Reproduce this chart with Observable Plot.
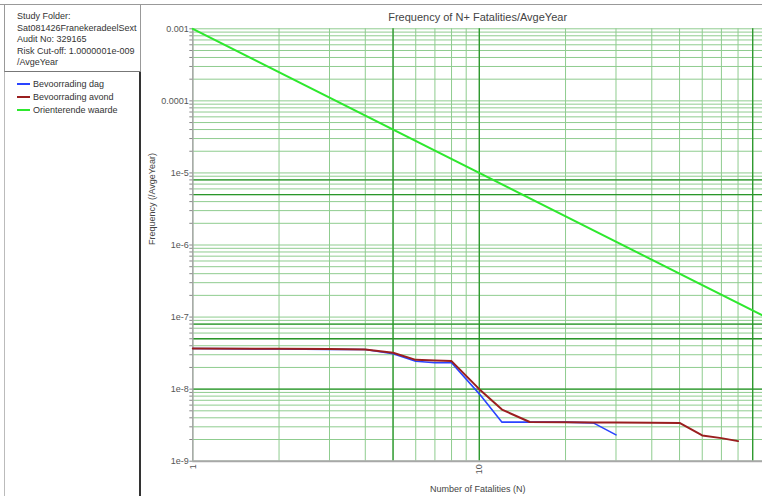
<!DOCTYPE html>
<html><head><meta charset="utf-8">
<script src="https://cdn.jsdelivr.net/npm/d3@7"></script>
<script src="https://cdn.jsdelivr.net/npm/@observablehq/plot@0.6"></script>
<style>
html,body{margin:0;padding:0;background:#fff;overflow:hidden;}
#page{position:relative;width:762px;height:496px;font-family:"Liberation Sans",Arial,sans-serif;color:#333;overflow:hidden;}
#topline{position:absolute;left:0;top:4px;width:762px;height:0;border-top:1px solid #999;z-index:3;}
#info{position:absolute;left:4px;top:4px;width:135px;height:67px;border-left:1px solid #999;border-right:1px solid #999;border-bottom:1px solid #777;z-index:3;}
#legendbox{position:absolute;left:4px;top:72px;width:134px;height:430px;border-left:1px solid #bbb;border-right:2px solid #333;z-index:3;}
.info{position:absolute;left:12px;font-size:9px;line-height:11px;white-space:nowrap;color:#333;}
.leg{position:absolute;left:12px;font-size:9px;line-height:11px;white-space:nowrap;color:#333;}
.sw{display:inline-block;width:13px;height:0;vertical-align:middle;margin-right:3px;position:relative;top:-1px;}
#chart{position:absolute;left:141px;top:0;z-index:1;}
</style>
</head><body>
<div id="page">
  <div id="topline"></div>
  <div id="info"></div>
  <div id="legendbox"></div>
  <div id="chart"></div>
</div>
<script>
// ---- data ----
const infoLines = ["Study Folder:", "Sat081426FranekeradeelSext", "Audit No: 329165", "Risk Cut-off: 1.0000001e-009", "/AvgeYear"];
const seriesNames = ["Bevoorrading dag", "Bevoorrading avond", "Orienterende waarde"];
const seriesColors = ["#2a44ff", "#9a1f1f", "#2ee82e"];

const dagN = [1, 2, 3, 4, 5, 6, 7, 8, 10, 12, 15, 20, 25, 30];
const dagF = [3.66e-8, 3.6e-8, 3.56e-8, 3.55e-8, 3.09e-8, 2.44e-8, 2.32e-8, 2.32e-8, 8.6e-9, 3.48e-9, 3.48e-9, 3.48e-9, 3.4e-9, 2.32e-9];

const avondN = [1, 2, 3, 4, 5, 6, 7, 8, 10, 12, 15, 20, 25, 30, 40, 50, 60, 70, 80];
const avondF = [3.66e-8, 3.64e-8, 3.6e-8, 3.55e-8, 3.19e-8, 2.55e-8, 2.5e-8, 2.45e-8, 1.0e-8, 5.2e-9, 3.5e-9, 3.48e-9, 3.45e-9, 3.44e-9, 3.42e-9, 3.4e-9, 2.28e-9, 2.09e-9, 1.9e-9];

const orientN = [1, 100];
const orientF = [1e-3, 1e-7];

const yTicks = [1e-9, 1e-8, 1e-7, 1e-6, 1e-5, 1e-4, 1e-3];
const yTickLabels = ["1e-9", "1e-8", "1e-7", "1e-6", "1e-5", "0.0001", "0.001"];
const xTicks = [1, 10, 100];
const xTickLabels = ["1", "10", "100"];
const darkX = [5, 10, 90];
const darkY = [8e-6, 5e-6, 8e-8, 5e-8, 1e-8];

const title = "Frequency of N+ Fatalities/AvgeYear";
const xTitle = "Number of Fatalities (N)";
const yTitle = "Frequency (/AvgeYear)";

// ---- left panel ----
const info = document.getElementById("info");
infoLines.forEach((t, i) => {
  const d = document.createElement("div");
  d.className = "info"; d.textContent = t;
  d.style.top = (7 + i * 11.5) + "px";
  info.appendChild(d);
});
const lb = document.getElementById("legendbox");
seriesNames.forEach((t, i) => {
  const d = document.createElement("div");
  d.className = "leg";
  d.style.top = (7 + i * 13) + "px";
  const s = document.createElement("span");
  s.className = "sw"; s.style.borderTop = "2px solid " + seriesColors[i];
  d.appendChild(s);
  d.appendChild(document.createTextNode(t));
  lb.appendChild(d);
});

// ---- chart ----
const dag = dagN.map((n, i) => ({N: n, F: dagF[i]}));
const avond = avondN.map((n, i) => ({N: n, F: avondF[i]}));
const orient = orientN.map((n, i) => ({N: n, F: orientF[i]}));

const vGrid = [];
for (let e = 0; e < 2; e++) for (let m = 1; m <= 9; m++) vGrid.push(m * Math.pow(10, e));
vGrid.push(100);
const hGrid = [];
for (let e = -9; e < -3; e++) for (let m = 1; m <= 9; m++) hGrid.push(m * Math.pow(10, e));
hGrid.push(1e-3);

const fmtY = d => {
  const k = yTicks.findIndex(t => Math.abs(Math.log10(t) - Math.log10(d)) < 1e-6);
  return k >= 0 ? yTickLabels[k] : "";
};
const fmtX = d => {
  const k = xTicks.findIndex(t => Math.abs(t - d) < 1e-9);
  return k >= 0 ? xTickLabels[k] : "";
};

const W = 621, H = 496, ML = 51.3, MT = 28.3, MB = 35.3;
const chart = Plot.plot({
  width: W, height: H,
  marginLeft: ML, marginRight: 0, marginTop: MT, marginBottom: MB,
  x: {type: "log", domain: [1, 100], range: [ML, ML + 573]},
  y: {type: "log", domain: [1e-9, 1e-3]},
  style: {fontFamily: "'Liberation Sans', Arial, sans-serif", fontSize: "9px", color: "#555", background: "white", overflow: "hidden"},
  marks: [
    Plot.ruleX(vGrid, {stroke: "#8fcc8f", strokeWidth: 1}),
    Plot.ruleY(hGrid, {stroke: "#8fcc8f", strokeWidth: 1}),
    Plot.ruleX(darkX, {stroke: "#2a962a", strokeWidth: 1.3}),
    Plot.ruleY(darkY, {stroke: "#2a962a", strokeWidth: 1.3}),
    Plot.ruleX([1], {stroke: "#a8a8a8", strokeWidth: 1.5}),
    Plot.ruleY([1e-9], {stroke: "#a8a8a8", strokeWidth: 2}),
    Plot.axisY({ticks: hGrid, tickSize: 3, tickPadding: 1, tickFormat: fmtY, label: null, stroke: "#888"}),
    Plot.axisX({ticks: xTicks, tickSize: 0, tickPadding: 3, tickRotate: -90, tickFormat: fmtX, label: null}),
    Plot.line(orient, {x: "N", y: "F", stroke: seriesColors[2], strokeWidth: 2}),
    Plot.line(dag, {x: "N", y: "F", stroke: seriesColors[0], strokeWidth: 1.6}),
    Plot.line(avond, {x: "N", y: "F", stroke: seriesColors[1], strokeWidth: 2}),
    Plot.text([title], {frameAnchor: "top", lineAnchor: "middle", dy: -11.6, fontSize: 11, fill: "#444"}),
    Plot.text([xTitle], {frameAnchor: "bottom", lineAnchor: "middle", dy: 27.5, fontSize: 9, fill: "#444"}),
    Plot.text([yTitle], {frameAnchor: "left", dx: -41, rotate: -90, fontSize: 9, fill: "#444"})
  ]
});
document.getElementById("chart").appendChild(chart);
</script>
</body></html>
